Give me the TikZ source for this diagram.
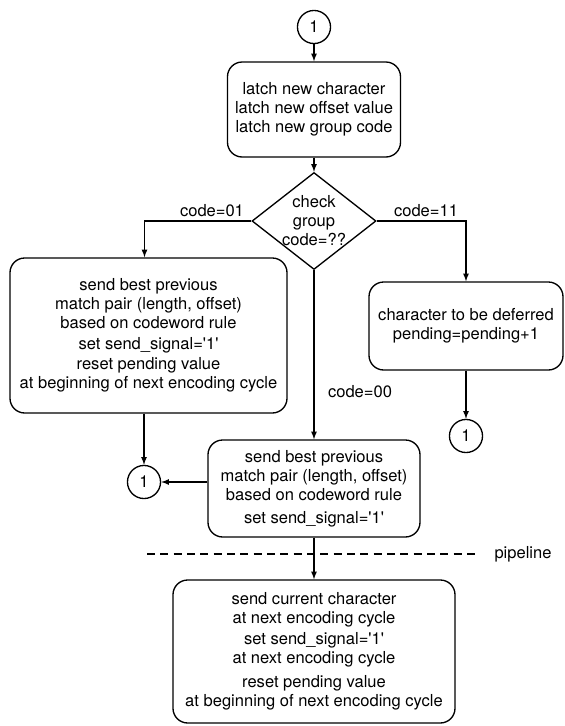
\documentclass[tikz,border=0pt]{standalone}
\usepackage{fontspec}
\setmainfont{TeX Gyre Heros}
\usetikzlibrary{shapes.geometric}
\tikzset{>=latex}
\tikzset{
  procbox/.style = {draw = black, rounded corners = 11pt, align = center, inner sep = 0pt},
  conn/.style = {circle, draw = black, inner sep = 0pt, minimum size = 24.8pt},
  cond/.style = {diamond, draw = black, inner sep = 0pt, minimum width = 93pt, minimum height = 72.75pt},
}

\begin{document}
\begin{tikzpicture}[x = 0.75pt, y = -0.75pt, line width = 1pt, font = \fontsize{12.4}{14.25}\selectfont]

\useasboundingbox (0, 0) rectangle (565, 726);

\node[conn] (top) at (314, 27) {1};
\node[procbox, minimum width = 129.75pt, minimum height = 71.25pt] (latch) at (314, 109.5) {latch new character\\latch new offset value\\latch new group code};
\node[cond, label = {[align = center]center:check\\group\\code=??}] (check) at (314, 221) {};

\node[procbox, minimum width = 207.75pt, minimum height = 116.25pt] (sendA) at (148.5, 335.5) {send best previous\\match pair (length, offset)\\based on codeword rule\\[1pt]set send\_signal=\textquotesingle 1\textquotesingle\\[1pt]reset pending value\\at beginning of next encoding cycle};
\node[procbox, minimum width = 145.5pt, minimum height = 66pt] (defer) at (466, 326) {character to be deferred\\pending=pending+1};
\node[conn] (endB) at (466, 436) {1};
\node[procbox, minimum width = 159pt, minimum height = 72.75pt] (sendC) at (314, 488.5) {send best previous\\match pair (length, offset)\\based on codeword rule\\[3pt]set send\_signal=\textquotesingle 1\textquotesingle};
\node[conn] (endA) at (144, 482) {1};
\node[procbox, minimum width = 211.5pt, minimum height = 107.25pt] (sendD) at (314, 651.5) {send current character\\at next encoding cycle\\[1pt]set send\_signal=\textquotesingle 1\textquotesingle\\at next encoding cycle\\[4pt]reset pending value\\at beginning of next encoding cycle};

\node (c01) at (212, 211) {code=01};
\node (c11) at (426, 211) {code=11};
\node (c00) at (360, 392) {code=00};
\coordinate (pl) at (147, 554);
\coordinate (pr) at (477, 554);
\node (pipe) at (523, 554) {pipeline};

\draw[->] (top) -- (latch);
\draw[->] (latch) -- (check);
\draw[->] (check.west) -| ([xshift = -3pt]sendA.north);
\draw[->] (check.east) -| (defer.north);
\draw[->] (check) -- (sendC);
\draw[->] (defer) -- (endB);
\draw[->] (sendA.south -| endA) -- (endA);
\draw[->] (sendC.west |- endA) -- (endA);
\draw[->] (sendC) -- (sendD);
\draw[dash pattern = on 6pt off 4pt] (pl) -- (pr);

\end{tikzpicture}
\end{document}
